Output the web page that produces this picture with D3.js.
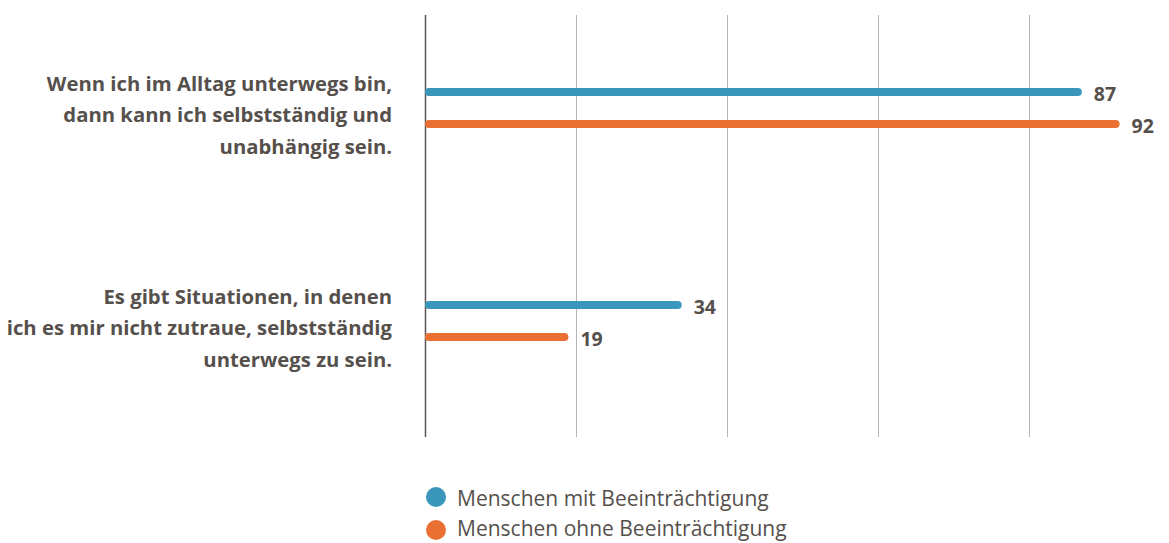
<!DOCTYPE html>
<html>
<head>
<meta charset="utf-8">
<script src="https://cdn.jsdelivr.net/npm/d3@7"></script>
<style>
  html, body { margin: 0; padding: 0; background: #fff; }
  svg { display: block; font-family: "Open Sans", Lato, sans-serif; }
</style>
</head>
<body>
<svg id="chart" width="1169" height="543"></svg>
<script>
// Statements (each drawn on three lines)
const categories = [
  ["Wenn ich im Alltag unterwegs bin,", "dann kann ich selbstständig und", "unabhängig sein."],
  ["Es gibt Situationen, in denen", "ich es mir nicht zutraue, selbstständig", "unterwegs zu sein."]
];
const seriesNames = ["Menschen mit Beeinträchtigung", "Menschen ohne Beeinträchtigung"];
const withImpairment = [87, 34];
const withoutImpairment = [92, 19];
const gridTicks = [0, 20, 40, 60, 80];

const colors = ["#3a96bb", "#e96f33"];
const textColor = "#56504c";

const svg = d3.select("#chart");

const x = d3.scaleLinear().domain([0, 100]).range([425, 1180]);
const y = d3.scaleBand().domain(d3.range(categories.length)).range([1.5, 427.5]);
const sub = d3.scaleBand().domain([0, 1]).range([-32, 32]).paddingInner(0);

// vertical gridlines
svg.append("g").selectAll("line")
  .data(gridTicks)
  .join("line")
  .attr("x1", d => Math.round(x(d)) + 0.5)
  .attr("x2", d => Math.round(x(d)) + 0.5)
  .attr("y1", 15)
  .attr("y2", 437)
  .attr("stroke", d => d === 0 ? "#5a5450" : "#b5b5b5")
  .attr("stroke-width", d => d === 0 ? 1.5 : 1);

const series = [withImpairment, withoutImpairment];
const barH = 8;

series.forEach((vals, si) => {
  const g = svg.append("g");
  g.selectAll("rect")
    .data(vals)
    .join("rect")
    .attr("x", x(0))
    .attr("y", (d, i) => y(i) + y.bandwidth() / 2 + sub(si) + sub.bandwidth() / 2 - barH / 2)
    .attr("width", d => x(d) - x(0))
    .attr("height", barH)
    .attr("rx", barH / 2)
    .attr("fill", colors[si]);
  g.selectAll("text")
    .data(vals)
    .join("text")
    .attr("x", d => x(d) + 12)
    .attr("y", (d, i) => y(i) + y.bandwidth() / 2 + sub(si) + sub.bandwidth() / 2 + 1)
    .attr("dominant-baseline", "central")
    .attr("font-size", 19.5)
    .attr("font-weight", 700)
    .attr("fill", textColor)
    .text(d => d);
});

// category labels
const lab = svg.append("g");
categories.forEach((lines, i) => {
  const cy = y(i) + y.bandwidth() / 2;
  const t = lab.append("text")
    .attr("text-anchor", "end")
    .attr("font-size", 20.3)
    .attr("font-weight", 700)
    .attr("fill", textColor);
  lines.forEach((ln, k) => {
    t.append("tspan")
      .attr("x", 392)
      .attr("y", cy - 17.5 + k * 31.5)
      .text(ln);
  });
});

// legend
const leg = svg.append("g");
seriesNames.forEach((name, i) => {
  leg.append("circle").attr("cx", 436).attr("cy", 497 + i * 33).attr("r", 10).attr("fill", colors[i]);
  leg.append("text")
    .attr("x", 457).attr("y", 506 + i * 30)
    .attr("font-size", 21)
    .attr("fill", textColor)
    .text(name);
});
</script>
</body>
</html>
